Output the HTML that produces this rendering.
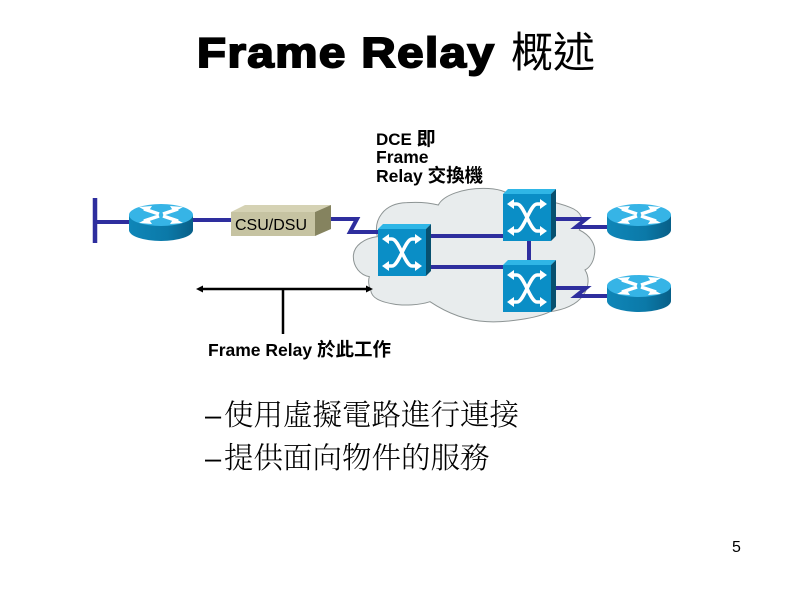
<!DOCTYPE html>
<html><head><meta charset="utf-8"><style>
html,body{margin:0;padding:0;background:#fff;width:794px;height:595px;overflow:hidden}
svg{display:block}
text{fill:#000}
.s{font-family:"Liberation Sans","Noto Sans CJK TC",sans-serif}
.b{font-weight:bold}
.c{font-family:"Liberation Sans","Noto Serif CJK SC",serif;font-weight:300}
</style></head><body>
<svg width="794" height="595" viewBox="0 0 794 595" xmlns="http://www.w3.org/2000/svg">
<defs>
<linearGradient id="rb" x1="0" x2="1" y1="0" y2="0"><stop offset="0" stop-color="#0f86b8"/><stop offset=".6" stop-color="#0b79a8"/><stop offset="1" stop-color="#085f88"/></linearGradient>
<g id="router">
<path d="M-32 0V15A32 11 0 0 0 32 15V0Z" fill="url(#rb)"/>
<ellipse cx="0" cy="0" rx="32" ry="11" fill="#36b4e6"/>
<g stroke="#fff" stroke-width="3.500" fill="none">
<path d="M-17 -6 L-2 -1 M17 6 L2 1 M-17 6 L-2 1 M17 -6 L2 -1"/>
</g>
<path d="M-22 -8 L-9 -9 L-13 -3Z M22 8 L9 9 L13 3Z M-22 8 L-9 9 L-13 3Z M22 -8 L9 -9 L13 -3Z" fill="#fff"/>
</g>
<g id="switch">
<path d="M0 5 L5 0 H53 L48 5Z" fill="#2fb6e6"/>
<path d="M48 5 L53 0 V47 L48 52Z" fill="#07506f"/>
<rect x="0" y="5" width="48" height="47" fill="#0a8ec6"/>
<g stroke="#fff" stroke-width="3.500" fill="none">
<path d="M9 15 H14 C21 15 27 42 34 42 H39"/>
<path d="M39 15 H34 C27 15 21 42 14 42 H9"/>
</g>
<path d="M4 15 L11 10 V20Z M44 15 L37 10 V20Z M4 42 L11 37 V47Z M44 42 L37 37 V47Z" fill="#fff"/>
</g>
</defs>

<text class="s b" transform="translate(197 67) scale(1.13 1)" font-size="42" letter-spacing="1.300" stroke="#000" stroke-width="1.900">Frame Relay</text>
<text x="511" y="67" font-size="42" style="font-family:'Noto Sans CJK TC',sans-serif">概述</text>

<text class="s b" x="376" y="145" font-size="17">DCE <tspan font-size="19">即</tspan></text>
<text class="s b" x="376" y="163" font-size="17.500">Frame</text>
<text class="s b" x="376" y="182" font-size="17.500">Relay <tspan font-size="18.500">交換機</tspan></text>

<g transform="translate(340 170) scale(.33333)">
<path d="M40 260 C40 225 75 205 112 200 C100 150 130 100 200 98 C240 95 275 100 295 105 C310 75 370 55 430 55 C470 55 500 62 525 85 C590 85 650 95 690 112 C725 125 735 150 718 180 C750 195 770 225 763 255 C760 280 745 295 735 300 C748 320 748 350 730 375 C710 405 670 420 630 425 C590 445 500 458 440 455 C385 452 330 435 270 395 C240 405 190 408 160 402 C120 395 95 385 92 360 C85 345 85 330 88 320 C60 315 40 290 40 260Z" fill="#e8eced" stroke="#8d9494" stroke-width="3"/>
</g>

<g fill="none" stroke="#2e2e9e" stroke-width="4">
<path d="M95 222 H132"/>
<path d="M190 220 H233"/>
<path d="M331 219 H357 L350 232 H380"/>
<path d="M428 236 H505"/>
<path d="M428 267 H505"/>
<path d="M529 240 V266"/>
<path d="M555 219 H586 L576 227 H610"/>
<path d="M555 288 H586 L576 296 H610"/>
</g>
<path d="M95 198 V243" stroke="#2e2e9e" stroke-width="4.500" fill="none"/>

<use href="#router" x="161" y="215"/>
<use href="#router" x="639" y="215"/>
<use href="#router" x="639" y="286"/>

<path d="M231 212 L245 205 H331 L315 212Z" fill="#d5d2b4"/>
<path d="M315 212 L331 205 V229 L315 236Z" fill="#85835f"/>
<rect x="231" y="212" width="84" height="24" fill="#c6c3a2"/>
<text class="s" x="235" y="230" font-size="16">CSU/DSU</text>

<use href="#switch" x="378" y="224"/>
<use href="#switch" x="503" y="189"/>
<use href="#switch" x="503" y="260"/>

<g stroke="#000" fill="none" stroke-width="2.500">
<path d="M199 289 H370"/>
<path d="M283 289 V334"/>
</g>
<path d="M196 289 L203 285.500 V292.500Z M373 289 L366 285.500 V292.500Z" fill="#000"/>

<text class="s b" x="208" y="356" font-size="17.500">Frame Relay <tspan font-size="18.500">於此工作</tspan></text>

<text class="c" x="205" y="425" font-size="29">–</text>
<text class="c" x="224" y="425" font-size="29.500">使用虛擬電路進行連接</text>
<text class="c" x="205" y="468" font-size="29">–</text>
<text class="c" x="224" y="468" font-size="29.500">提供面向物件的服務</text>

<text class="s" x="732" y="552" font-size="16">5</text>
</svg>
</body></html>
